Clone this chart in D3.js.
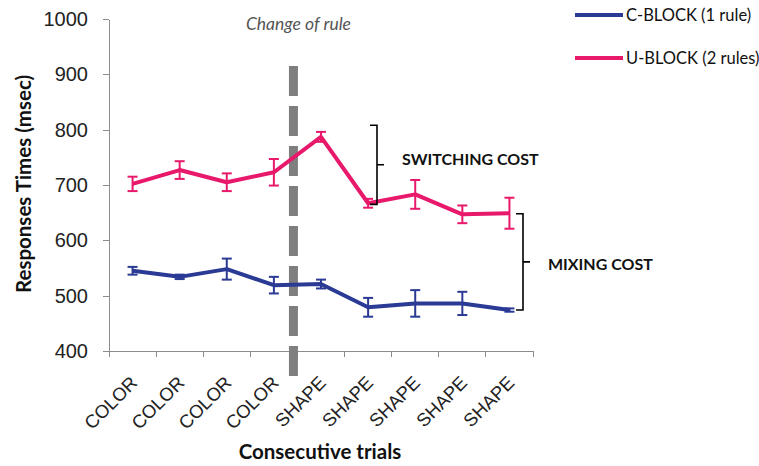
<!DOCTYPE html>
<meta charset="utf-8">
<style>
body { margin: 0; background: #fff; font-family: Lato, "Open Sans", sans-serif; }
.axis path, .axis line { stroke: #8c8c8c; stroke-width: 1; shape-rendering: crispEdges; }
.axis text { fill: #222; }
</style>
<body>
<script src="https://cdn.jsdelivr.net/npm/d3@7"></script>
<script>
var trials = ["COLOR", "COLOR", "COLOR", "COLOR", "SHAPE", "SHAPE", "SHAPE", "SHAPE", "SHAPE"];
var yTicks = [400, 500, 600, 700, 800, 900, 1000];

var cBlock = [545, 534, 548, 519, 521, 479, 486, 486, 474];
var cBlockErr = [7, 4, 19, 15, 8, 17, 24, 21, 3];
var uBlock = [702, 727, 705, 723, 787, 667, 683, 647, 649];
var uBlockErr = [13, 16, 16, 24, 9, 8, 26, 16, 28];

var series = [
  {name: "C-BLOCK (1 rule)", values: cBlock, err: cBlockErr, color: "#2b3a94"},
  {name: "U-BLOCK (2 rules)", values: uBlock, err: uBlockErr, color: "#e8196b"}
];

var width = 759, height = 466;

var svg = d3.select("body").append("svg")
    .attr("width", width)
    .attr("height", height);

var x = d3.scaleBand()
    .domain(d3.range(trials.length))
    .range([109, 533])
    .paddingInner(0).paddingOuter(0);

var y = d3.scaleLinear()
    .domain([400, 1000])
    .range([351, 19]);

// y axis
var yAxis = svg.append("g")
    .attr("class", "axis")
    .attr("transform", "translate(109,0)")
    .call(d3.axisLeft(y).tickValues(yTicks).tickFormat(d3.format("d"))
      .tickSize(6).tickPadding(15).tickSizeOuter(0));
yAxis.selectAll("text").style("font-size", "20px");

// x axis
var xAxis = svg.append("g")
    .attr("class", "axis")
    .attr("transform", "translate(0,351)")
    .call(d3.axisBottom(x).tickSize(0).tickSizeOuter(0).tickFormat(function(i) { return trials[i]; }));
xAxis.selectAll("text")
    .style("font-size", "18.5px")
    .style("text-anchor", "end")
    .attr("x", 0).attr("y", 0).attr("dy", 0)
    .attr("transform", "translate(6,33) rotate(-45)");
// boundary ticks
xAxis.selectAll(".bound")
    .data(d3.range(trials.length + 1))
  .enter().append("line")
    .attr("class", "bound")
    .attr("x1", function(i) { return i < trials.length ? x(i) : x(i - 1) + x.bandwidth(); })
    .attr("x2", function(i) { return i < trials.length ? x(i) : x(i - 1) + x.bandwidth(); })
    .attr("y1", 0).attr("y2", 6);

// change of rule dashed line
var changeX = x(4) - 4;
svg.append("line")
    .attr("x1", changeX).attr("x2", changeX)
    .attr("y1", 66).attr("y2", 376)
    .attr("stroke", "#7f7f7f")
    .attr("stroke-width", 9)
    .attr("stroke-dasharray", "30,10");

svg.append("text")
    .attr("x", changeX + 5).attr("y", 30)
    .attr("text-anchor", "middle")
    .style("font-style", "italic")
    .style("font-size", "17.5px")
    .style("fill", "#555")
    .text("Change of rule");

var line = d3.line()
    .x(function(d, i) { return x(i) + x.bandwidth() / 2; })
    .y(function(d) { return y(d); });

series.forEach(function(s) {
  var g = svg.append("g");
  g.append("path")
      .datum(s.values)
      .attr("fill", "none")
      .attr("stroke", s.color)
      .attr("stroke-width", 4)
      .attr("stroke-linejoin", "round")
      .attr("d", line);

  var eb = g.selectAll(".err")
      .data(s.values)
    .enter().append("g")
      .attr("stroke", s.color)
      .attr("stroke-width", 2);
  eb.append("line")
      .attr("x1", function(d, i) { return x(i) + x.bandwidth() / 2; })
      .attr("x2", function(d, i) { return x(i) + x.bandwidth() / 2; })
      .attr("y1", function(d, i) { return y(d + s.err[i]); })
      .attr("y2", function(d, i) { return y(d - s.err[i]); });
  [1, -1].forEach(function(sign) {
    eb.append("line")
        .attr("x1", function(d, i) { return x(i) + x.bandwidth() / 2 - 5; })
        .attr("x2", function(d, i) { return x(i) + x.bandwidth() / 2 + 5; })
        .attr("y1", function(d, i) { return y(d + sign * s.err[i]); })
        .attr("y2", function(d, i) { return y(d + sign * s.err[i]); });
  });
});

// brackets
function bracket(xv, top, bot, label, tx, dyText) {
  var yTop = y(top), yBot = y(bot), ym = (yTop + yBot) / 2;
  svg.append("path")
      .attr("fill", "none")
      .attr("stroke", "#000")
      .attr("stroke-width", 1.6)
      .attr("d", "M" + (xv - 7) + "," + yTop + "L" + xv + "," + yTop +
                 "L" + xv + "," + yBot + "L" + (xv - 7) + "," + yBot +
                 "M" + xv + "," + ym + "L" + (xv + 7) + "," + ym);
  svg.append("text")
      .attr("x", tx).attr("y", ym + dyText)
      .style("font-size", "16px")
      .style("font-weight", "bold")
      .style("fill", "#111")
      .text(label);
}
bracket(377, 808, 665, "SWITCHING COST", 402, 0);
bracket(523, 648, 474, "MIXING COST", 548, 8);

// legend
series.forEach(function(s, i) {
  var ly = 15 + i * 43;
  svg.append("line")
      .attr("x1", 575).attr("x2", 623)
      .attr("y1", ly).attr("y2", ly)
      .attr("stroke", s.color).attr("stroke-width", 4);
  svg.append("text")
      .attr("x", 626).attr("y", ly + 6)
      .style("font-size", "16.5px")
      .style("fill", "#111")
      .text(s.name);
});

// axis titles
svg.append("text")
    .attr("transform", "translate(31,184) rotate(-90)")
    .attr("text-anchor", "middle")
    .style("font-size", "20.5px")
    .style("font-weight", "bold")
    .style("fill", "#111")
    .text("Responses Times (msec)");

svg.append("text")
    .attr("x", 320).attr("y", 459)
    .attr("text-anchor", "middle")
    .style("font-size", "20.5px")
    .style("font-weight", "bold")
    .style("fill", "#111")
    .text("Consecutive trials");
</script>
</body>
